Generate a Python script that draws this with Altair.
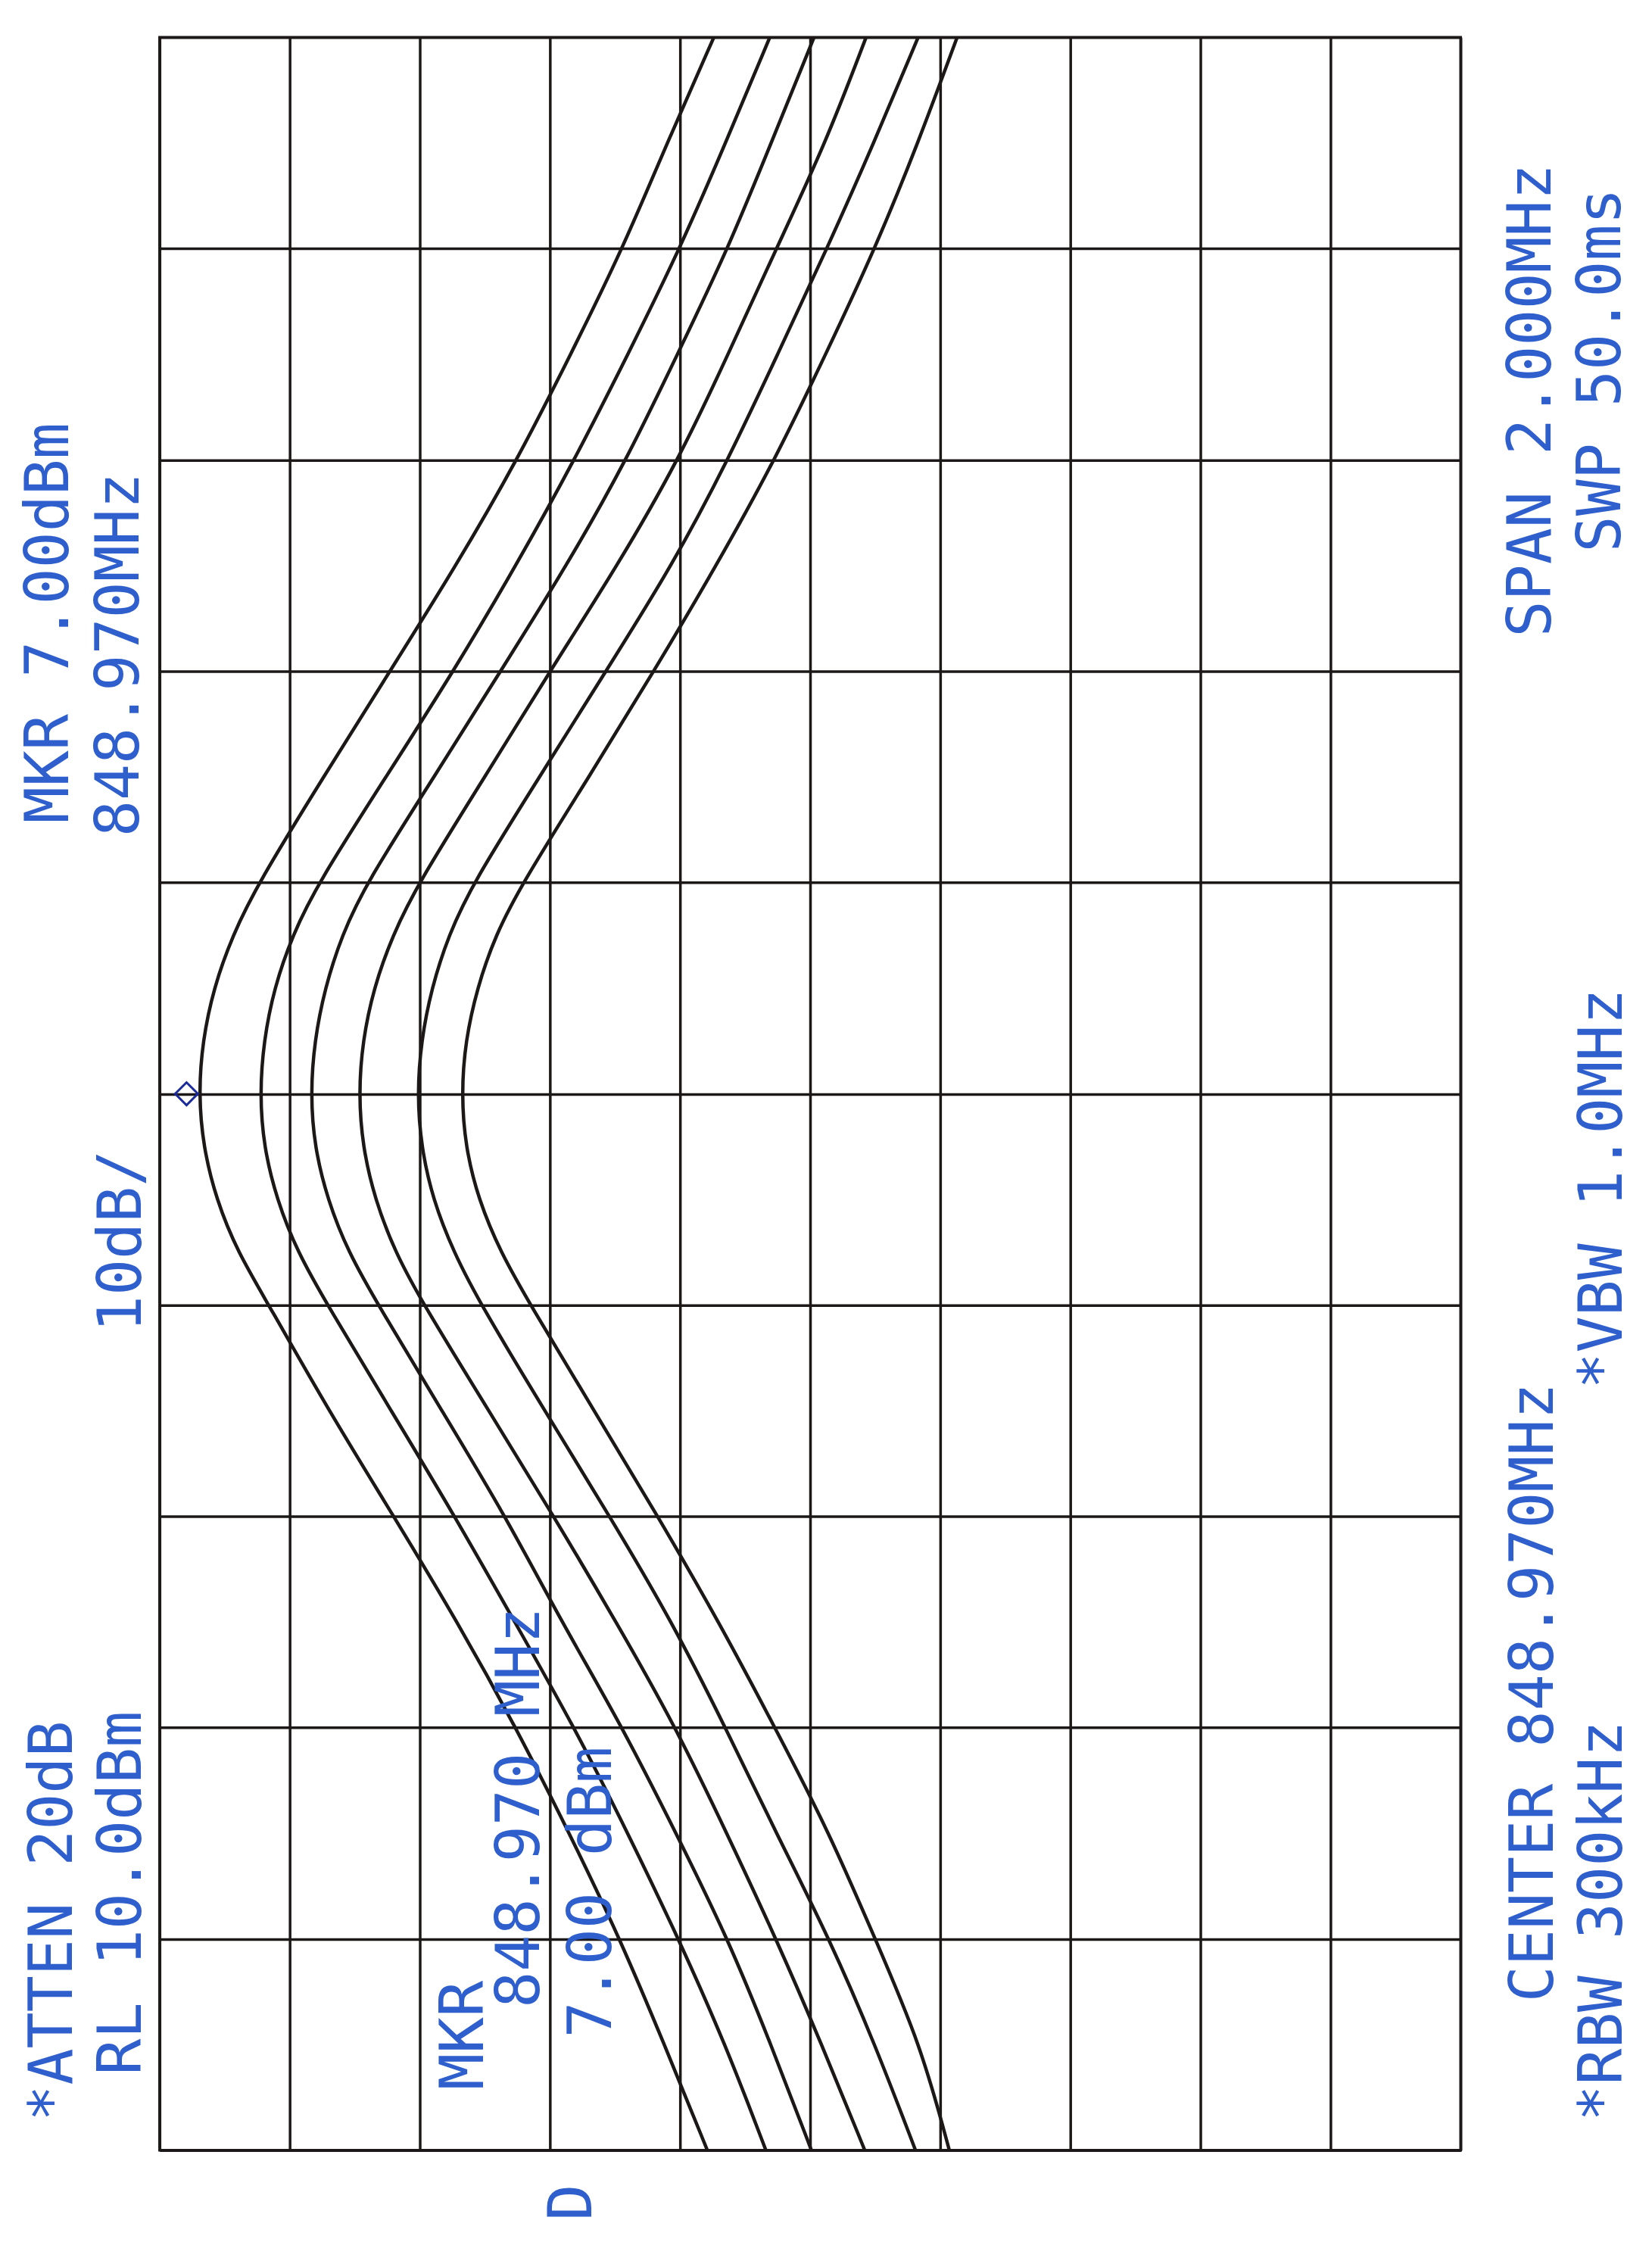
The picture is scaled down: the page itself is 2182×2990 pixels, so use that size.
import altair as alt
import pandas as pd

# ---- data -----------------------------------------------------------------
# frequency axis (MHz): top of the grid = 849.97, bottom = 847.97 (0.2 MHz/div)
FREQ_MHZ = [849.97, 849.87, 849.77, 849.67, 849.57, 849.47, 849.37, 849.27,
            849.17, 849.12, 849.07, 849.02, 848.97, 848.92, 848.87, 848.82,
            848.77, 848.67, 848.57, 848.47, 848.37, 848.27, 848.17, 848.07,
            847.97]

# amplitude (dBm) of each trace; reference level 10 dBm, 10 dB/div
TRACE_1 = [-32.6, -29.0, -25.6, -21.6, -17.5, -12.8, -7.7, -2.6, 2.4, 4.4, 5.85,
           6.7, 7.0, 6.65, 5.65, 4.0, 1.6, -3.0, -8.0, -12.9, -17.4, -21.5,
           -25.4, -28.8, -32.1]
TRACE_2 = [-36.9, -33.5, -30.0, -26.0, -21.9, -17.4, -12.6, -7.4, -2.2, -0.2,
           1.2, 2.0, 2.3, 2.0, 1.0, -0.6, -2.9, -7.8, -12.7, -17.3, -21.9,
           -26.0, -29.9, -33.5, -36.6]
TRACE_3 = [-40.3, -37.0, -33.7, -29.8, -25.9, -21.3, -16.2, -11.1, -5.9, -4.0,
           -2.7, -1.9, -1.6, -1.9, -2.9, -4.5, -6.8, -11.7, -16.6, -20.9,
           -25.6, -29.7, -33.7, -37.0, -40.1]
TRACE_4 = [-44.3, -41.2, -37.4, -33.7, -29.9, -25.2, -20.0, -15.0, -9.9, -7.9,
           -6.45, -5.6, -5.3, -5.6, -6.55, -8.1, -10.3, -15.3, -20.3, -25.1,
           -29.7, -33.6, -37.4, -40.9, -44.2]
TRACE_5 = [-48.3, -44.9, -41.3, -37.5, -33.7, -29.4, -24.3, -19.2, -14.1,
           -12.2, -10.9, -10.1, -9.8, -10.1, -11.0, -12.6, -14.7, -19.6,
           -24.6, -29.4, -33.5, -37.4, -41.5, -45.0, -48.1]
TRACE_6 = [-51.3, -48.3, -45.0, -41.2, -37.3, -32.8, -28.0, -23.0, -17.9,
           -15.8, -14.4, -13.5, -13.2, -13.5, -14.5, -16.2, -18.5, -23.4,
           -28.3, -33.0, -37.3, -41.5, -45.0, -48.5, -50.7]

TRACES = [TRACE_1, TRACE_2, TRACE_3, TRACE_4, TRACE_5, TRACE_6]

AMP_TICKS = [10, 0, -10, -20, -30, -40, -50, -60, -70, -80, -90]
FREQ_TICKS = [847.97, 848.17, 848.37, 848.57, 848.77, 848.97, 849.17,
              849.37, 849.57, 849.77, 849.97]

MARKER_AMP = [7.0]
MARKER_FREQ = [848.97]

LABELS = ["*ATTEN 20dB", "RL 10.0dBm", "10dB/", "MKR 7.00dBm", "848.970MHz",
          "SPAN 2.000MHz", "SWP 50.0ms", "CENTER 848.970MHz", "*RBW 300kHz",
          "*VBW 1.0MHz", "MKR", "848.970 MHz", "7.00 dBm", "D"]

# ---- build tables ----------------------------------------------------------
rows = []
for t, tr in enumerate(TRACES):
    for f, a in zip(FREQ_MHZ, tr):
        rows.append({"trace": f"T{t+1}", "freq": f, "amp": a})
df = pd.DataFrame(rows)
mk = pd.DataFrame({"amp": MARKER_AMP, "freq": MARKER_FREQ})

W, H = 1720, 2793
INK = "#1c1818"
BLUE = "#2f5fcc"

xs = alt.Scale(domain=[10, -90], nice=False, zero=False)
ys = alt.Scale(domain=[847.97, 849.97], nice=False, zero=False)

xaxis = alt.Axis(values=AMP_TICKS, grid=True, gridColor=INK, gridWidth=3.5,
                 gridOpacity=1, labels=False, ticks=False, domain=False,
                 title=None)
yaxis = alt.Axis(values=FREQ_TICKS, grid=True, gridColor=INK, gridWidth=3.5,
                 gridOpacity=1, labels=False, ticks=False, domain=False,
                 title=None)

lines = alt.Chart(df).mark_line(
    color=INK, strokeWidth=4.5, interpolate="basis", clip=True
).encode(
    x=alt.X("amp:Q", scale=xs, axis=xaxis),
    y=alt.Y("freq:Q", scale=ys, axis=yaxis),
    detail="trace:N",
    order=alt.Order("freq:Q", sort="descending"),
)

marker = alt.Chart(mk).mark_point(
    shape="diamond", size=900, filled=False, color="#1a2a9a",
    strokeWidth=3, xOffset=-16, opacity=1
).encode(
    x=alt.X("amp:Q", scale=xs),
    y=alt.Y("freq:Q", scale=ys),
)

dummy = pd.DataFrame({"k": [0]})

# label layout (pixels relative to the plot area): x centre, y centre
LAYOUT = [(-140, 2490), (-49, 2453), (-49, 1591), (-145, 774), (-52, 816),
          (1815, 480), (1907, 440), (1818, 2188), (1909, 2490), (1909, 1522),
          (404, 2641), (478, 2340), (573, 2452), (547, 2862)]

texts = []
for s, (px, py) in zip(LABELS, LAYOUT):
    texts.append(
        alt.Chart(dummy).mark_text(
            angle=270, align="center", baseline="middle",
            font="DejaVu Sans Mono", fontSize=80, color=BLUE
        ).encode(x=alt.value(px), y=alt.value(py), text=alt.value(s))
    )

chart = alt.layer(lines, marker, *texts).properties(
    width=W, height=H,
    autosize=alt.AutoSizeParams(type="none"),
    padding={"left": 203, "top": 40, "right": 245, "bottom": 130},
    background="white",
).configure_view(stroke=INK, strokeWidth=3.5)

chart.save("out.html", embed_options={"renderer": "svg", "actions": False})
